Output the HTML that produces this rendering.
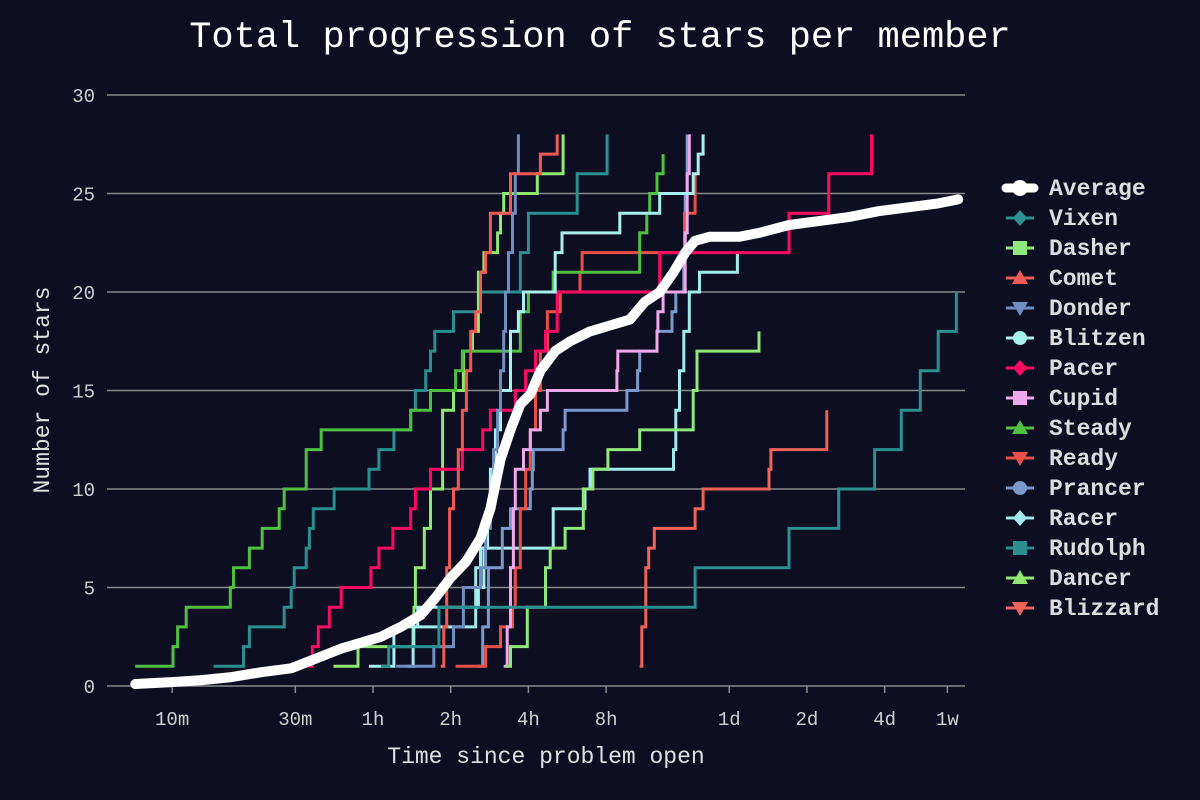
<!DOCTYPE html>
<html><head><meta charset="utf-8"><style>
html,body{margin:0;padding:0;background:#0d0e22;}
svg{display:block;font-family:"Liberation Mono","DejaVu Sans Mono",monospace;}
</style></head><body>
<svg id="chart" width="1200" height="800" viewBox="0 0 1200 800" xmlns="http://www.w3.org/2000/svg">
<rect width="1200" height="800" fill="#0d0e22"/>
<text x="600" y="47" text-anchor="middle" fill="#ffffff" font-size="37">Total progression of stars per member</text>
<g id="grid"></g>
<g id="axes"></g>
<g id="series"></g>
<g id="legend"></g>
<text x="546" y="763" text-anchor="middle" fill="#e0e0e0" font-size="23">Time since problem open</text>
<text transform="translate(49,390) rotate(-90)" text-anchor="middle" fill="#e0e0e0" font-size="23">Number of stars</text>
</svg>
<script>
// tick data
const yTicks = [0,5,10,15,20,25,30];
const xTickHours = [1/6, 0.5, 1, 2, 4, 8, 24, 48, 96, 168];
const xTickLabels = ["10m","30m","1h","2h","4h","8h","1d","2d","4d","1w"];
// series names / colors
const seriesNames = ["Average","Vixen","Dasher","Comet","Donder","Blitzen","Pacer","Cupid","Steady","Ready","Prancer","Racer","Rudolph","Dancer","Blizzard"];
const seriesColors = ["#ffffff","#2a9090","#8ee87a","#ef5a55","#6e8fc0","#a8f0ee","#ff0a62","#efa8ea","#50c040","#e85048","#7b9acb","#a0ecec","#2b8f8f","#90e870","#f06458"];
const seriesMarkers = ["circle","diamond","square","triangle","tridown","circle","diamond","square","triangle","tridown","circle","diamond","square","triangle","tridown"];
// data (time in hours, stars)
const avgT = [0.12,0.166,0.217,0.283,0.369,0.482,0.63,0.753,0.899,1.073,1.282,1.531,1.75,2.0,2.29,2.61,2.85,3.12,3.41,3.72,4.07,4.45,5.08,5.8,6.93,8.28,9.88,11.3,12.9,14.6,16.2,17.7,20.1,26.2,31.3,40.9,53.4,69.6,90.9,118.6,154.8,185];
const avgS = [0.1,0.2,0.3,0.45,0.7,0.9,1.5,1.9,2.2,2.5,3,3.6,4.5,5.5,6.3,7.5,9,11.5,13,14.3,14.8,16,17,17.5,18,18.3,18.6,19.5,20,21,22,22.6,22.8,22.8,23,23.4,23.6,23.8,24.1,24.3,24.5,24.7];
const vixenT = [1.073,1.15,1.8,17.7,40.9,63.7,87.8,111.4,132,154.8,182];
const vixenS = [1,2,4,6,8,10,12,14,16,18,20];
const dasherT = [3.26,3.41,3.96,4.66,4.86,5.55,6.53,7.11,8.13,10.8,17.4,18.0,31.3];
const dasherS = [1,2,4,6,7,8,10,11,12,13,15,17,18];
const cometT = [1.83,1.88,1.93,1.98,2.05,2.14,2.22,2.30,2.39,2.50,2.61,2.73,2.85,3.41,4.45,5.17];
const cometS = [1,3,6,9,10,12,14,16,18,19,21,22,24,26,27,28];
const donderT = [1.23,1.72,2.05,2.24,2.61,2.73,2.85,2.93,3.04,3.12,3.21,3.26,3.35,3.47,3.56,3.66];
const donderS = [1,2,3,5,6,8,10,12,14,16,18,20,22,24,26,28];
const blitzenT = [0.965,1.205,1.49,2.56,2.69,2.78,2.85,2.98,3.12,3.41,3.66,3.83,5.08,5.40,9.04,12.9,17.4,18.2,19.0];
const blitzenS = [1,3,4,5,7,9,11,13,15,18,19,20,22,23,24,25,26,27,28];
const pacerT = [0.482,0.582,0.614,0.677,0.753,0.982,1.054,1.194,1.40,1.46,1.67,2.22,2.66,2.85,3.56,3.90,4.26,4.66,5.17,12.9,40.9,58.3,85.4];
const pacerS = [1,2,3,4,5,6,7,8,9,10,11,12,13,14,15,16,17,18,20,22,24,26,28];
const cupidT = [3.21,3.31,3.41,3.50,3.56,3.83,4.07,4.45,4.74,8.81,8.88,12.6,12.7,13.3,16.2,16.5,16.8];
const cupidS = [1,3,6,9,11,12,13,14,15,16,17,18,19,20,23,26,28];
const steadyT = [0.12,0.168,0.175,0.189,0.28,0.288,0.332,0.372,0.433,0.453,0.551,0.63,1.4,1.67,2.09,2.22,3.72,4.0,4.99,10.8,11.5,11.8,12.6,13.3];
const steadyS = [1,2,3,4,5,6,7,8,9,10,12,13,14,15,16,17,19,20,21,23,24,25,26,27];
const readyT = [2.09,2.73,3.12,3.47,3.56,3.72,3.90,4.07,4.26,4.45,4.74,5.31,6.34,6.46,16.1,17.7];
const readyS = [1,2,3,4,6,9,11,13,15,17,19,20,21,22,24,26];
const prancerT = [2.54,2.66,2.80,3.17,3.41,4.07,4.14,4.18,5.45,5.55,9.63,10.6,10.8,12.6,14.4,14.9,16.0,16.2,16.5];
const prancerS = [1,3,6,8,9,10,11,12,13,14,15,16,17,18,19,20,22,25,28];
const racerT = [1.36,1.43,2.50,2.61,4.99,6.63,6.93,14.6,14.9,15.4,16.0,16.8,18.4,25.8];
const racerS = [1,3,6,7,9,10,11,12,14,16,18,20,21,22];
const rudolphT = [0.241,0.315,0.332,0.453,0.482,0.495,0.551,0.567,0.587,0.707,0.965,1.054,1.205,1.40,1.46,1.60,1.67,1.735,2.05,2.61,3.72,4.0,6.18,8.07];
const rudolphS = [1,2,3,4,5,6,7,8,9,10,11,12,13,14,15,16,17,18,19,20,22,24,26,28];
const dancerT = [0.703,0.875,1.44,1.46,1.58,1.67,1.86,2.05,2.24,2.43,2.56,2.69,3.04,3.12,3.21,4.33,5.45];
const dancerS = [1,2,4,6,8,10,14,15,17,18,21,22,23,24,25,26,28];
const blizzardT = [10.8,11.0,11.4,11.7,12.3,17.7,19.0,34.2,34.8,57.3];
const blizzardS = [1,3,6,7,8,9,10,11,12,14];

const NS = "http://www.w3.org/2000/svg";
const X0 = 107, X1 = 965;
function xScale(h){ return 373 + 77.7 * Math.log2(h); }
function yScale(s){ return 686 - s * 19.7; }
function mk(tag, attrs, parent){ const e = document.createElementNS(NS, tag); for (const k in attrs) e.setAttribute(k, attrs[k]); parent.appendChild(e); return e; }

const grid = document.getElementById('grid');
const axes = document.getElementById('axes');
yTicks.forEach(v => {
  const l = mk('line', {x1:X0, x2:X1, y1:yScale(v), y2:yScale(v), stroke:'#8a8a8a', 'stroke-width':1.5}, grid);
  
  
  const t = mk('text', {x:95, y:yScale(v)+7, 'text-anchor':'end', fill:'#cfcfcf', 'font-size':19}, axes);
  t.textContent = v;
  
  
});
xTickHours.forEach((h, i) => {
  const x = xScale(h);
  const tk = mk('line', {x1:x, x2:x, y1:686, y2:693, stroke:'#8a8a8a', 'stroke-width':1.5}, axes);
  
  
  const t = mk('text', {x:x, y:725, 'text-anchor':'middle', fill:'#cfcfcf', 'font-size':19}, axes);
  t.textContent = xTickLabels[i];
  
  
});

const seriesData = [[avgT,avgS],[vixenT,vixenS],[dasherT,dasherS],[cometT,cometS],[donderT,donderS],[blitzenT,blitzenS],[pacerT,pacerS],[cupidT,cupidS],[steadyT,steadyS],[readyT,readyS],[prancerT,prancerS],[racerT,racerS],[rudolphT,rudolphS],[dancerT,dancerS],[blizzardT,blizzardS]];
const sg = document.getElementById('series');
for (let i = seriesData.length - 1; i >= 1; i--) {
  const T = seriesData[i][0], S = seriesData[i][1];
  let d = 'M' + xScale(T[0]).toFixed(1) + ',' + yScale(S[0]).toFixed(1);
  for (let j = 1; j < T.length; j++) {
    d += ' H' + xScale(T[j]).toFixed(1) + ' V' + yScale(S[j]).toFixed(1);
  }
  const p = mk('path', {d:d, fill:'none', stroke:seriesColors[i], 'stroke-width':3, 'stroke-linejoin':'miter'}, sg);
  
  
}
{
  let d = '';
  for (let j = 0; j < avgT.length; j++) d += (j ? ' L' : 'M') + xScale(avgT[j]).toFixed(1) + ',' + yScale(avgS[j]).toFixed(1);
  const p = mk('path', {d:d, fill:'none', stroke:'#ffffff', 'stroke-width':10, 'stroke-linecap':'round', 'stroke-linejoin':'round'}, sg);
  
  
}

const lg = document.getElementById('legend');
seriesNames.forEach((n, i) => {
  const y = 188 + i * 30;
  const g = mk('g', {}, lg);
  
  
  const c = seriesColors[i];
  mk('line', {x1:1006, x2:1034, y1:y, y2:y, stroke:c, 'stroke-width': i === 0 ? 9 : 3, 'stroke-linecap': i === 0 ? 'round' : 'butt'}, g);
  const m = seriesMarkers[i], cx = 1020;
  if (m === 'circle') mk('circle', {cx:cx, cy:y, r: i === 0 ? 8 : 7, fill:c}, g);
  else if (m === 'square') mk('rect', {x:cx-7, y:y-7, width:14, height:14, fill:c}, g);
  else if (m === 'diamond') mk('polygon', {points:`${cx},${y-8} ${cx+7},${y} ${cx},${y+8} ${cx-7},${y}`, fill:c}, g);
  else if (m === 'triangle') mk('polygon', {points:`${cx},${y-8} ${cx+8},${y+6} ${cx-8},${y+6}`, fill:c}, g);
  else mk('polygon', {points:`${cx},${y+8} ${cx+8},${y-6} ${cx-8},${y-6}`, fill:c}, g);
  const t = mk('text', {x:1049, y:y+7, fill:'#dddddd', 'font-size':23, 'font-weight':'bold'}, g);
  t.textContent = n;
});
</script>
</body></html>
